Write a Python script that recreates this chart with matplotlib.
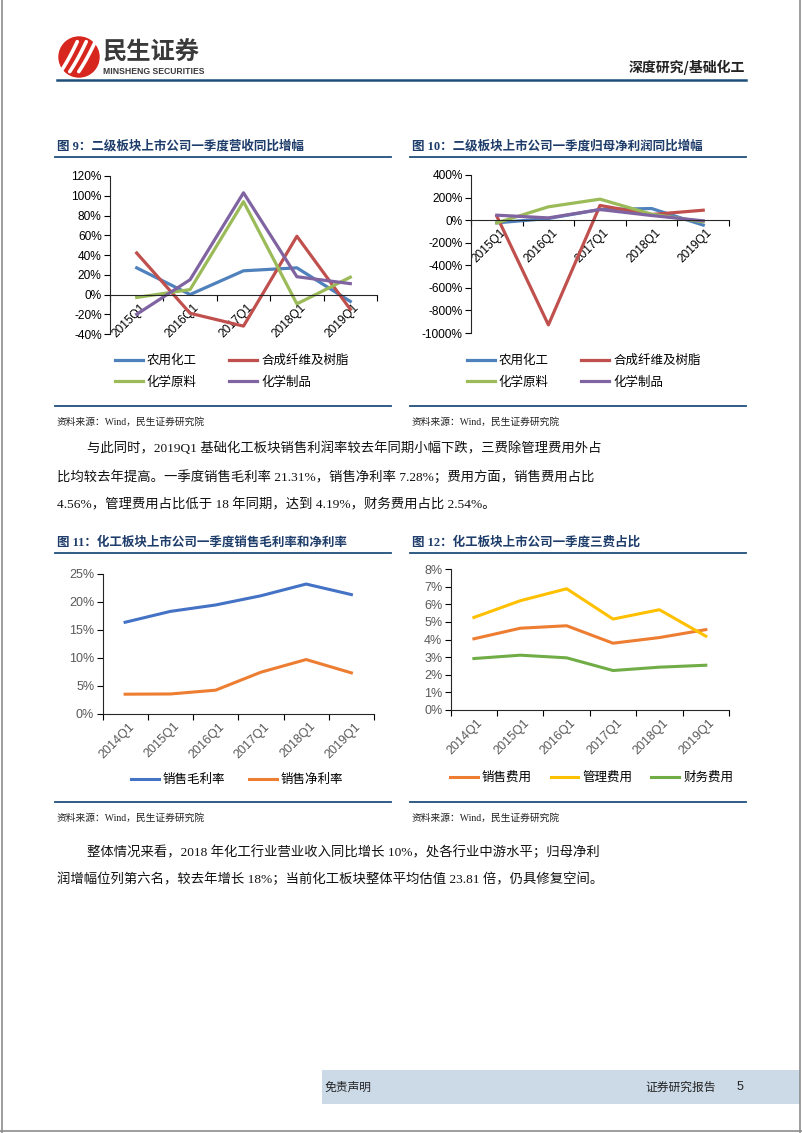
import numpy as np
import matplotlib.pyplot as plt
import matplotlib.ticker as mtick
from matplotlib.lines import Line2D
from matplotlib.patches import Rectangle, Circle
from matplotlib.transforms import ScaledTranslation

plt.rcParams['axes.unicode_minus'] = False

W, H = 802, 1133
SERIF_CJK = ['Liberation Serif', 'Noto Sans CJK SC']
NAVY = '#1F4E79'

# ---- data ----
quarters5 = ['2015Q1', '2016Q1', '2017Q1', '2018Q1', '2019Q1']
quarters6 = ['2014Q1', '2015Q1', '2016Q1', '2017Q1', '2018Q1', '2019Q1']
sectors = ['农用化工', '合成纤维及树脂', '化学原料', '化学制品']

# 图9 营收同比 (%)
rev_agri = [27, 0, 24, 27, -7]
rev_fiber = [42, -19, -32, 59, -15]
rev_raw = [-3, 5, 94, -9.5, 17.5]
rev_prod = [-20, 15, 103, 18, 11]

# 图10 归母净利润同比 (%)
np_agri = [-24, 15, 94, 103, -44]
np_fiber = [35, -928, 130, 50, 88]
np_raw = [-24, 118, 186, 53, -15]
np_prod = [44, 20, 94, 41, -6]

# 图11 毛利率 / 净利率 (%)
margin_names = ['销售毛利率', '销售净利率']
gross_margin = [16.35, 18.3, 19.45, 21.1, 23.2, 21.31]
net_margin = [3.46, 3.5, 4.18, 7.4, 9.67, 7.28]

# 图12 三费占比 (%)
expense_names = ['销售费用', '管理费用', '财务费用']
sales_exp = [4.04, 4.64, 4.78, 3.79, 4.11, 4.56]
admin_exp = [5.25, 6.2, 6.88, 5.16, 5.69, 4.19]
fin_exp = [2.92, 3.11, 2.96, 2.24, 2.43, 2.54]

fig = plt.figure(figsize=(W / 100, H / 100), dpi=100)


def px_axes(left, top, right, bottom):
    return fig.add_axes([left / W, 1 - bottom / H, (right - left) / W, (bottom - top) / H])


def ftext(x, y, s, **kw):
    kw.setdefault('va', 'center')
    return fig.text(x / W, 1 - y / H, s, **kw)


def hline(x0, x1, y, **kw):
    fig.add_artist(Line2D([x0 / W, x1 / W], [1 - y / H, 1 - y / H], **kw))


def style_axes(ax, cats, ylim, step, color, zero_spine, dx, fs):
    for s in ['top', 'right']:
        ax.spines[s].set_visible(False)
    for s in ['left', 'bottom']:
        ax.spines[s].set_linewidth(0.8)
        ax.spines[s].set_color('#262626')
    if zero_spine:
        ax.spines['bottom'].set_position(('data', 0))
    ax.set_xlim(-0.5, len(cats) - 0.5)
    ax.set_ylim(*ylim)
    ax.yaxis.set_major_locator(mtick.MultipleLocator(step))
    ax.yaxis.set_major_formatter(mtick.FormatStrFormatter('%d%%'))
    ax.set_xticks(range(len(cats)))
    ax.set_xticklabels(cats, rotation=45, ha='right', va='top', rotation_mode='anchor')
    ax.set_xticks(np.arange(-0.5, len(cats)), minor=True)
    ax.tick_params(axis='x', which='major', length=0, pad=5, labelsize=fs, labelcolor=color)
    ax.tick_params(axis='x', which='minor', length=4, width=0.8, direction='out')
    ax.tick_params(axis='y', length=4, width=0.8, direction='out', pad=2, labelsize=fs, labelcolor=color)
    for lab in ax.get_xticklabels() + ax.get_yticklabels():
        lab.set_family('Liberation Sans')
    for lab in ax.get_xticklabels():
        lab.set_transform(lab.get_transform() + ScaledTranslation(dx / 100, 0, fig.dpi_scale_trans))
    ax.patch.set_alpha(0)


def add_legend(ax, handles, x, y, ncol, colsp):
    ax.legend(handles=handles, ncol=ncol, loc='upper left', bbox_to_anchor=(x / W, 1 - y / H),
              bbox_transform=fig.transFigure, frameon=False,
              prop={'family': ['Noto Sans CJK SC'], 'size': 9}, handlelength=2.2,
              handletextpad=0.35, columnspacing=colsp, borderpad=0, borderaxespad=0,
              labelspacing=0.7)


# ---- page frame / header / footer ----
fig.add_artist(Line2D([1.5 / W, 1.5 / W], [0, 1], color='#8c8c8c', lw=1.2))
fig.add_artist(Line2D([800 / W, 800 / W], [0, 1], color='#8c8c8c', lw=1.2))
hline(0, W, 1131, color='#8c8c8c', lw=1.2)

logo = px_axes(58, 36, 100, 78)
logo.set_xlim(-1.05, 1.05)
logo.set_ylim(-1.05, 1.05)
logo.set_aspect('equal')
logo.axis('off')
logo.add_patch(Circle((0, 0), 1, color='#D7261E'))
for off in [-0.45, 0.0, 0.45]:
    t = np.linspace(-0.75, 0.75, 30)
    logo.plot(t * 0.55 + off - 0.05, t + 0.12 * t ** 2 - 0.05, color='white', lw=2.6,
              solid_capstyle='round')

ftext(103, 53, '民生证券', family=['Noto Sans CJK SC'], fontsize=17.5, weight='bold', color='#3a3a3a')
ftext(103, 71, 'MINSHENG SECURITIES', family=['Liberation Sans'], fontsize=6.2, weight='bold',
      color='#3a3a3a')
ftext(745, 67, '深度研究/基础化工', family=['Noto Sans CJK SC'], fontsize=10, weight='bold',
      color='#222222', ha='right')
hline(57, 746, 80, color=NAVY, lw=1.8)

fig.add_artist(Rectangle((322 / W, 1 - 1104 / H), (800 - 322) / W, 34 / H,
                         transform=fig.transFigure, color='#CCDAE8', lw=0))
ftext(324, 1087, '免责声明', family=['Noto Sans CJK SC'], fontsize=8.5, color='#222222')
ftext(645, 1087, '证券研究报告', family=['Noto Sans CJK SC'], fontsize=8.5, color='#222222')
ftext(737, 1087, '5', family=['Liberation Sans'], fontsize=9, color='#222222')

# ---- titles, rules, sources ----
title_kw = dict(family=SERIF_CJK, fontsize=9, weight='bold', color='#1F3D6B')
src_kw = dict(family=SERIF_CJK, fontsize=7, color='#222222')
for x0, x1, tx, y_t, y_b, title in [
        (55, 391, 57, 146, 406, '图 9：二级板块上市公司一季度营收同比增幅'),
        (410, 746, 412, 146, 406, '图 10：二级板块上市公司一季度归母净利润同比增幅'),
        (55, 391, 57, 542, 802, '图 11：化工板块上市公司一季度销售毛利率和净利率'),
        (410, 746, 412, 542, 802, '图 12：化工板块上市公司一季度三费占比')]:
    ftext(tx, y_t, title, **title_kw)
    hline(x0, x1, y_t + 11, color=NAVY, lw=1.3)
    hline(x0, x1, y_b, color=NAVY, lw=1.3)
    ftext(tx, y_b + 16, '资料来源：Wind，民生证券研究院', **src_kw)

para_kw = dict(family=SERIF_CJK, fontsize=9.6, color='#111111')
ftext(87, 448, '与此同时，2019Q1 基础化工板块销售利润率较去年同期小幅下跌，三费除管理费用外占', **para_kw)
ftext(57, 477, '比均较去年提高。一季度销售毛利率 21.31%，销售净利率 7.28%；费用方面，销售费用占比', **para_kw)
ftext(57, 505, '4.56%，管理费用占比低于 18 年同期，达到 4.19%，财务费用占比 2.54%。', **para_kw)
ftext(87, 852, '整体情况来看，2018 年化工行业营业收入同比增长 10%，处各行业中游水平；归母净利', **para_kw)
ftext(57, 879, '润增幅位列第六名，较去年增长 18%；当前化工板块整体平均估值 23.81 倍，仍具修复空间。', **para_kw)

# ---- 图9 ----
c4 = ['#4F81BD', '#C0504D', '#9BBB59', '#8064A2']
ax9 = px_axes(110, 176, 377, 334)
h9 = [ax9.plot(range(5), v, color=c, lw=2.3, label=n, clip_on=False)[0]
      for v, c, n in zip([rev_agri, rev_fiber, rev_raw, rev_prod], c4, sectors)]
style_axes(ax9, quarters5, (-40, 120), 20, 'black', True, 3, 8.6)
add_legend(ax9, [h9[0], h9[2], h9[1], h9[3]], 115, 354, 2, 2.6)

# ---- 图10 ----
ax10 = px_axes(471, 175, 729, 333)
h10 = [ax10.plot(range(5), v, color=c, lw=2.3, label=n, clip_on=False)[0]
       for v, c, n in zip([np_agri, np_fiber, np_raw, np_prod], c4, sectors)]
style_axes(ax10, quarters5, (-1000, 400), 200, 'black', True, 3, 8.6)
add_legend(ax10, [h10[0], h10[2], h10[1], h10[3]], 467, 354, 2, 2.6)

# ---- 图11 ----
ax11 = px_axes(102.5, 574, 374, 713.5)
h11 = [ax11.plot(range(6), v, color=c, lw=2.2, label=n, clip_on=False)[0]
       for v, c, n in zip([gross_margin, net_margin], ['#4472C4', '#ED7D31'], margin_names)]
style_axes(ax11, quarters6, (0, 25), 5, '#595959', False, 3, 9)
add_legend(ax11, h11, 131, 773, 2, 1.9)

# ---- 图12 ----
ax12 = px_axes(450.7, 569, 729, 710)
h12 = [ax12.plot(range(6), v, color=c, lw=2.2, label=n, clip_on=False)[0]
       for v, c, n in zip([sales_exp, admin_exp, fin_exp], ['#ED7D31', '#FFC000', '#70AD47'],
                          expense_names)]
style_axes(ax12, quarters6, (0, 8), 1, '#595959', False, 3, 9)
add_legend(ax12, h12, 450, 771, 3, 1.5)

fig.savefig('out.png', dpi=100)
